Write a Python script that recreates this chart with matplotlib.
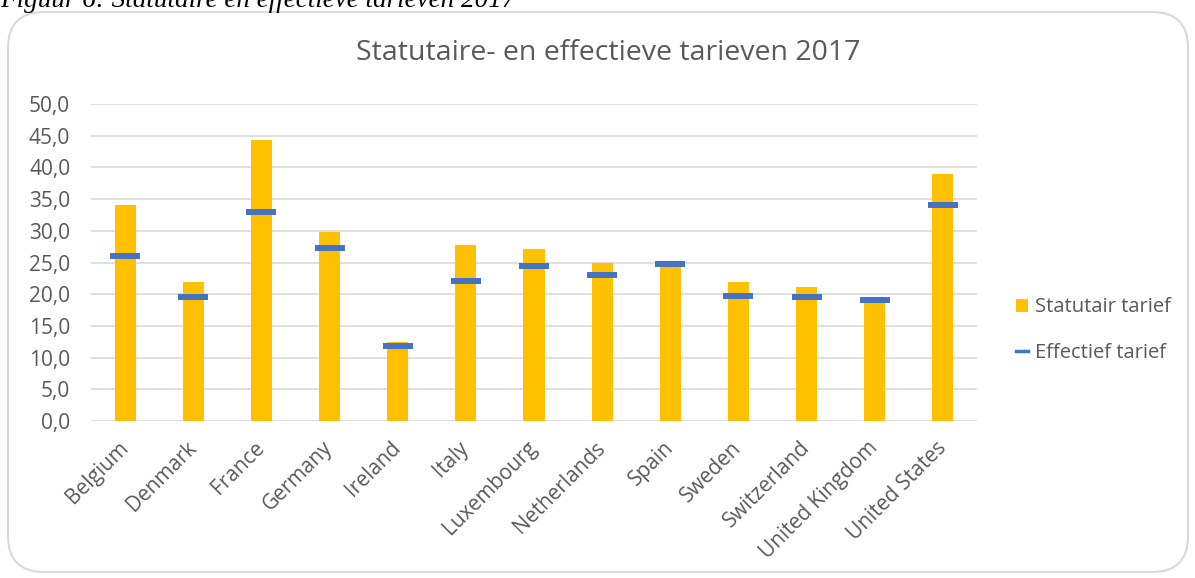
import matplotlib
matplotlib.use("Agg")
import matplotlib.pyplot as plt
from matplotlib.patches import FancyBboxPatch, Patch
from matplotlib.lines import Line2D
import numpy as np

countries = ["Belgium", "Denmark", "France", "Germany", "Ireland", "Italy",
             "Luxembourg", "Netherlands", "Spain", "Sweden", "Switzerland",
             "United Kingdom", "United States"]
statutair = [34.0, 22.0, 44.4, 29.8, 12.5, 27.8, 27.1, 25.0, 25.0, 22.0, 21.1, 19.0, 38.9]
effectief = [26.0, 19.6, 33.0, 27.3, 11.8, 22.1, 24.4, 23.0, 24.7, 19.7, 19.6, 19.1, 34.1]
yticks = [0, 5, 10, 15, 20, 25, 30, 35, 40, 45, 50]
ytick_labels = ["0,0", "5,0", "10,0", "15,0", "20,0", "25,0", "30,0", "35,0", "40,0", "45,0", "50,0"]

FONT = ["Open Sans", "DejaVu Sans"]
TXT = "#595959"

W, H = 1195, 578
fig = plt.figure(figsize=(W / 100, H / 100), dpi=100)

# rounded chart border
border = FancyBboxPatch((8 / W, 6 / H), (1180 / W), (560 / H),
                        boxstyle="round,pad=0,rounding_size=0.03",
                        transform=fig.transFigure, facecolor="white",
                        edgecolor="#d9d9d9", linewidth=1.5, zorder=-5,
                        mutation_aspect=W / H)
fig.patches.append(border)

# caption cut off at top
fig.text(0.0, 1 - 7 / H, "Figuur 6: Statutaire en effectieve tarieven 2017",
         family=["Liberation Serif", "DejaVu Serif"], style="italic",
         fontsize=19.5, color="black", ha="left", va="baseline", zorder=5)

ax = fig.add_axes([91 / W, 1 - 421 / H, (977 - 91) / W, (421 - 104) / H])
ax.set_zorder(2)
ax.set_facecolor("none")
x = np.arange(len(countries))
ax.bar(x, statutair, width=0.31, color="#FFC000", zorder=2)
ax.plot(x, effectief, linestyle="none", marker="_", markersize=21.5,
        markeredgewidth=4.3, color="#4472C4", zorder=3)

ax.set_xlim(-0.5, len(countries) - 0.5)
ax.set_ylim(0, 50)
ax.set_yticks(yticks)
ax.set_yticklabels(ytick_labels, family=FONT, fontsize=15, color=TXT)
ax.set_xticks(x)
ax.set_xticklabels(countries, family=FONT, fontsize=15, color=TXT,
                   rotation=45, ha="right", va="center", rotation_mode="anchor")
ax.tick_params(axis="y", length=0, pad=15)
ax.tick_params(axis="x", length=0, pad=17)
ax.grid(axis="y", color="#d9d9d9", linewidth=1.2, zorder=0)
ax.set_axisbelow(True)
for s in ax.spines.values():
    s.set_visible(False)

fig.text(608 / W, 1 - 60 / H, "Statutaire- en effectieve tarieven 2017",
         family=FONT, fontsize=20.5, color=TXT, ha="center", va="baseline")

handles = [Patch(facecolor="#FFC000", edgecolor="none"),
           Line2D([0], [0], color="#4472C4", linewidth=2.5)]
leg = fig.legend(handles, ["Statutair tarief", "Effectief tarief"],
                 loc="center left", bbox_to_anchor=(998 / W, 1 - 330 / H),
                 frameon=False, prop={"family": FONT, "size": 14.5},
                 handlelength=0.6, handleheight=0.6, handletextpad=0.35,
                 labelspacing=1.25, labelcolor=TXT)

fig.savefig("out.png", dpi=100)
